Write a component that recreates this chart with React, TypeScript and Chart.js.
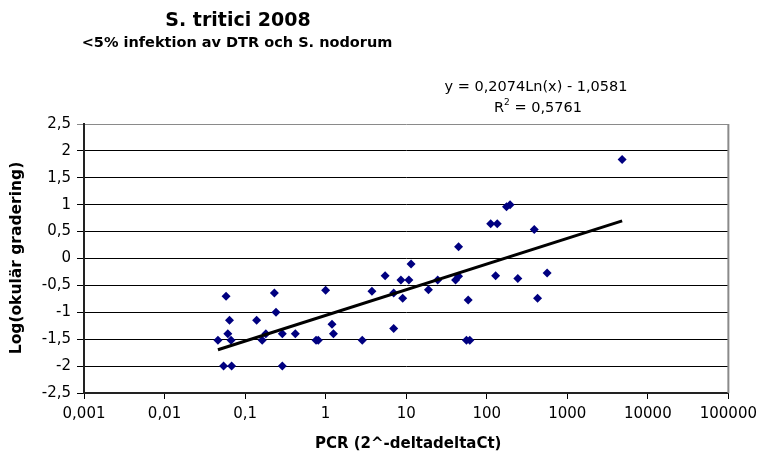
import React, { useEffect, useRef } from "react";
import { Chart, registerables } from "chart.js";

Chart.register(...registerables);

// PCR (2^-deltadeltaCt) values
const pcrValues: number[] = [
  0.046, 0.058, 0.054, 0.068, 0.061, 0.064, 0.067, 0.139, 0.163, 0.181,
  0.231, 0.242, 0.29, 0.29, 0.42, 0.76, 0.81, 1.0, 1.2, 1.25,
  2.85, 3.76, 5.48, 7.0, 7.0, 8.6, 9.05, 10.8, 11.5, 18.9,
  24.6, 41, 44.7, 44.7, 58.9, 56, 61.6, 112, 135, 129,
  176, 195, 243, 389, 428, 562, 4800,
];
// Log(okulär gradering) values
const gradingValues: number[] = [
  -1.52, -0.7, -2.0, -2.0, -1.4, -1.15, -1.52, -1.15, -1.52, -1.4,
  -0.64, -1.0, -1.4, -2.0, -1.4, -1.52, -1.52, -0.59, -1.22, -1.4,
  -1.52, -0.61, -0.32, -0.64, -1.3, -0.4, -0.74, -0.4, -0.1, -0.58,
  -0.4, -0.4, -0.33, 0.22, -0.77, -1.52, -1.52, 0.645, 0.645, -0.32,
  0.96, 1.0, -0.37, 0.54, -0.74, -0.27, 1.84,
];
// Logarithmic trendline endpoints (y = 0,2074Ln(x) - 1,0581)
const trendX: number[] = [0.046, 4800];
const trendY: number[] = [-1.697, 0.7];

const xTickValues: number[] = [0.001, 0.01, 0.1, 1, 10, 100, 1000, 10000, 100000];
const yTickValues: number[] = [-2.5, -2, -1.5, -1, -0.5, 0, 0.5, 1, 1.5, 2, 2.5];

const titleText = "S. tritici 2008";
const subtitleText = "<5% infektion av DTR och S. nodorum";
const equationText = "y = 0,2074Ln(x) - 1,0581";
const r2Value = "0,5761";
const xAxisTitle = "PCR (2^-deltadeltaCt)";
const yAxisTitle = "Log(okulär gradering)";

const FONT = "'DejaVu Sans', sans-serif";

const fmt = (v: number) => String(v).replace(".", ",");

export default function App() {
  const canvasRef = useRef<HTMLCanvasElement | null>(null);

  useEffect(() => {
    const canvas = canvasRef.current;
    if (!canvas) return;

    const textPlugin = {
      id: "textPlugin",
      afterDraw(chart: any) {
        const ctx = chart.ctx as CanvasRenderingContext2D;
        const area = chart.chartArea;
        ctx.save();
        // right border of plot area
        ctx.strokeStyle = "#8a8a8a";
        ctx.lineWidth = 2;
        ctx.beginPath();
        ctx.moveTo(area.right, area.top);
        ctx.lineTo(area.right, area.bottom);
        ctx.stroke();

        ctx.fillStyle = "#000";
        ctx.textAlign = "center";
        ctx.textBaseline = "middle";
        ctx.font = `bold 19px ${FONT}`;
        ctx.fillText(titleText, 238, 21);
        ctx.font = `bold 14.5px ${FONT}`;
        ctx.fillText(subtitleText, 237, 43);

        ctx.font = `14.5px ${FONT}`;
        ctx.fillText(equationText, 536, 87);

        // R² line
        const p1 = "R";
        const p3 = " = " + r2Value;
        ctx.font = `14.5px ${FONT}`;
        const w1 = ctx.measureText(p1).width;
        const w3 = ctx.measureText(p3).width;
        ctx.font = `9px ${FONT}`;
        const w2 = ctx.measureText("2").width;
        const total = w1 + w2 + w3;
        const sx = 538 - total / 2;
        ctx.textAlign = "left";
        ctx.font = `14.5px ${FONT}`;
        ctx.fillText(p1, sx, 108);
        ctx.font = `9px ${FONT}`;
        ctx.fillText("2", sx + w1, 103);
        ctx.font = `14.5px ${FONT}`;
        ctx.fillText(p3, sx + w1 + w2, 108);

        // axis titles
        ctx.textAlign = "center";
        ctx.font = `bold 15px ${FONT}`;
        ctx.fillText(xAxisTitle, (area.left + area.right) / 2 + 2, 444);
        ctx.save();
        ctx.translate(17, 258);
        ctx.rotate(-Math.PI / 2);
        ctx.font = `bold 15.5px ${FONT}`;
        ctx.fillText(yAxisTitle, 0, 0);
        ctx.restore();
        ctx.restore();
      },
    };

    const chart = new Chart(canvas, {
      type: "scatter",
      data: {
        datasets: [
          {
            label: "Trend",
            data: trendX.map((x, i) => ({ x, y: trendY[i] })),
            showLine: true,
            borderColor: "#000",
            borderWidth: 3,
            pointRadius: 0,
            pointHoverRadius: 0,
            order: 0,
          },
          {
            label: "Data",
            data: pcrValues.map((x, i) => ({ x, y: gradingValues[i] })),
            pointStyle: "rectRot",
            pointRadius: 4.5,
            pointHoverRadius: 4.5,
            backgroundColor: "#000080",
            borderColor: "#000080",
            borderWidth: 0,
            order: 1,
          },
        ],
      },
      options: {
        responsive: false,
        animation: false,
        devicePixelRatio: 1,
        layout: { padding: { top: 124, right: 30, left: 0, bottom: 0 } },
        plugins: {
          legend: { display: false },
          tooltip: { enabled: false },
          title: { display: false },
        },
        scales: {
          x: {
            type: "logarithmic",
            min: 0.001,
            max: 100000,
            afterBuildTicks: (scale: any) => {
              scale.ticks = xTickValues.map((v) => ({ value: v }));
            },
            afterFit: (scale: any) => {
              scale.height = 61;
            },
            ticks: {
              autoSkip: false,
              maxRotation: 0,
              padding: 6,
              color: "#000",
              font: { family: FONT, size: 15 },
              callback: (v: any) => fmt(Number(v)),
            },
            grid: {
              drawOnChartArea: false,
              drawTicks: true,
              tickLength: 6,
              color: "#000",
              lineWidth: 1,
            },
            border: { display: true, color: "#222", width: 2 },
          },
          y: {
            type: "linear",
            min: -2.5,
            max: 2.5,
            afterBuildTicks: (scale: any) => {
              scale.ticks = yTickValues.map((v) => ({ value: v }));
            },
            afterFit: (scale: any) => {
              scale.width = 84;
            },
            ticks: {
              padding: 6,
              color: "#000",
              font: { family: FONT, size: 15 },
              callback: (v: any) => fmt(Number(v)),
            },
            grid: {
              drawOnChartArea: true,
              drawTicks: true,
              tickLength: 7,
              color: (c: any) => (c.tick && c.tick.value === 2.5 ? "#8a8a8a" : "#000"),
              lineWidth: 1,
            },
            border: { display: true, color: "#222", width: 2 },
          },
        },
      },
      plugins: [textPlugin],
    } as any);

    return () => {
      chart.destroy();
    };
  }, []);

  return (
    <div style={{ position: "absolute", left: 0, top: 0, width: 763, height: 454, background: "#fff" }}>
      <canvas ref={canvasRef} width={763} height={454} style={{ display: "block" }} />
    </div>
  );
}
